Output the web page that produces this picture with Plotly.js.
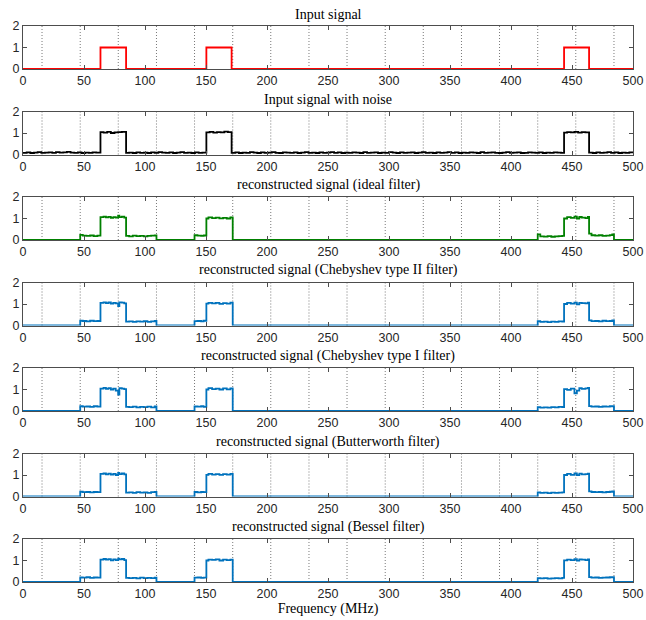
<!DOCTYPE html>
<html>
<head>
<meta charset="utf-8">
<script src="https://cdn.plot.ly/plotly-3.0.1.min.js"></script>
<style>html,body{margin:0;padding:0;background:#fff;}#chart{width:646px;height:620px;}</style>
</head>
<body>
<div id="chart"></div>
<script>
// ---------- data ----------
const panelTitles = [
  "Input signal",
  "Input signal with noise",
  "reconstructed signal (ideal filter)",
  "reconstructed signal (Chebyshev type II filter)",
  "reconstructed signal (Chebyshev type I filter)",
  "reconstructed signal (Butterworth filter)",
  "reconstructed signal (Bessel filter)"
];
const xTicks = [0, 50, 100, 150, 200, 250, 300, 350, 400, 450, 500];
const yTicks = [0, 1, 2];
const channelEdges = [15.6, 46.9, 78.1, 109.4, 140.6, 171.9, 203.1, 234.4, 265.6, 296.9, 328.1, 359.4, 390.6, 421.9, 453.1, 484.4];

// clean input signal (step breakpoints)
const inputX = [0, 63.5, 84.5, 150.3, 171, 443.5, 464, 500];
const inputY = [0, 1, 0, 1, 0, 1, 0, 0];

// noisy input signal, stored per segment: [start, stop, step] sampling and the values read
const noisySegments = [
  {from: 0, to: 60, step: 3, y: [0.08,0.10,0.07,0.09,0.11,0.08,0.09,0.10,0.08,0.11,0.09,0.10,0.12,0.09,0.08,0.10,0.07,0.09,0.08,0.10,0.09]},
  {pts: [63.5,66,69,72,75,78,81], y: [1.04,1.02,1.05,1.00,1.03,1.04,1.05]},
  {pts: [84.5], y: [0.08]},
  {from: 87, to: 147, step: 3, y: [0.09,0.07,0.10,0.08,0.09,0.07,0.10,0.08,0.11,0.09,0.08,0.10,0.07,0.09,0.11,0.08,0.09,0.07,0.10,0.08,0.09]},
  {pts: [150.3,153,156,159,162,165,168], y: [1.03,1.05,1.02,1.04,1.03,1.06,1.04]},
  {from: 171, to: 441, step: 3, y: [
    0.08,0.10,0.07,0.09,0.08,0.11,0.09,0.07,0.10,0.08,
    0.09,0.11,0.08,0.07,0.10,0.09,0.08,0.10,0.07,0.09,
    0.11,0.08,0.09,0.07,0.10,0.08,0.09,0.11,0.08,0.10,
    0.07,0.09,0.08,0.10,0.09,0.07,0.11,0.08,0.09,0.10,
    0.07,0.09,0.08,0.11,0.09,0.07,0.10,0.08,0.09,0.10,
    0.07,0.09,0.11,0.08,0.09,0.07,0.10,0.08,0.09,0.11,
    0.08,0.10,0.07,0.09,0.08,0.10,0.09,0.07,0.11,0.08,
    0.09,0.10,0.08,0.07,0.09,0.11,0.08,0.09,0.10,0.07,
    0.08,0.10,0.09,0.08,0.10,0.07,0.09,0.08,0.10,0.09,
    0.08]},
  {pts: [443.5,446,449,452,455,458,461], y: [1.02,1.04,1.03,1.05,1.02,1.04,1.03]},
  {from: 464, to: 500, step: 3, y: [0.09,0.07,0.10,0.08,0.09,0.11,0.08,0.10,0.07,0.09,0.08,0.10,0.08]}
];

// reconstructed signals share these sample positions (step breakpoints)
const bandX = [0,
  46.9,49,52,55,58,61,
  63.5,66,68,70,72,74,76,78,79,81,83,
  84.5,87,90,93,96,99,102,105,108,
  109.4,
  140.6,143,146,148,
  150.3,152,155,158,161,164,167,170,
  171.9,
  421.9,424,427,430,433,436,439,442,
  443.5,446,449,452,454,456,458,461,463,
  464,466,469,472,475,478,481,483,
  484.4,
  500];
const idealY = [0,
  0.24,0.20,0.19,0.21,0.18,0.20,
  1.06,1.09,1.05,1.08,1.03,1.06,1.04,1.13,1.06,1.09,1.04,
  0.19,0.17,0.20,0.18,0.19,0.17,0.19,0.20,0.21,
  0,
  0.22,0.20,0.19,0.21,
  1.00,1.05,1.02,1.04,1.01,1.03,1.00,1.05,
  0,
  0.26,0.17,0.16,0.18,0.15,0.17,0.18,0.19,
  1.00,1.06,1.03,1.09,1.00,1.07,1.04,1.02,1.07,
  0.30,0.22,0.20,0.22,0.19,0.20,0.23,0.26,
  0,
  0];
const cheby2Y = [0,
  0.22,0.21,0.19,0.22,0.20,0.21,
  1.05,1.08,1.04,1.07,1.02,1.05,1.03,0.90,1.08,1.06,1.03,
  0.18,0.19,0.17,0.19,0.18,0.20,0.17,0.19,0.21,
  0,
  0.20,0.21,0.19,0.22,
  1.02,1.05,1.03,1.05,1.01,1.04,1.02,1.06,
  0,
  0.20,0.17,0.18,0.16,0.18,0.17,0.19,0.18,
  1.00,1.05,1.02,1.06,0.98,1.05,1.04,1.03,1.06,
  0.24,0.20,0.21,0.19,0.22,0.20,0.21,0.24,
  0,
  0];
const cheby1Y = [0,
  0.22,0.20,0.21,0.19,0.22,0.20,
  1.04,1.08,1.03,1.06,1.00,1.04,0.95,0.76,1.06,1.04,1.02,
  0.19,0.18,0.20,0.17,0.19,0.18,0.20,0.17,0.21,
  0,
  0.21,0.20,0.22,0.19,
  1.00,1.06,1.02,1.04,1.00,1.05,1.01,1.05,
  0,
  0.18,0.16,0.17,0.16,0.18,0.17,0.19,0.18,
  1.02,0.98,1.04,0.82,0.95,1.06,1.03,1.05,1.07,
  0.23,0.20,0.21,0.19,0.21,0.20,0.22,0.23,
  0,
  0];
const butterY = [0,
  0.22,0.20,0.21,0.19,0.21,0.20,
  1.05,1.07,1.03,1.06,1.02,1.05,1.00,1.10,1.04,1.07,1.03,
  0.18,0.19,0.17,0.20,0.18,0.19,0.17,0.20,0.21,
  0,
  0.21,0.19,0.21,0.20,
  1.01,1.05,1.02,1.04,1.01,1.04,1.02,1.05,
  0,
  0.19,0.17,0.18,0.16,0.18,0.17,0.18,0.19,
  1.00,1.05,1.01,1.07,0.99,1.06,1.03,1.04,1.06,
  0.24,0.21,0.20,0.21,0.19,0.21,0.22,0.24,
  0,
  0];
const besselY = [0,
  0.21,0.20,0.22,0.19,0.21,0.20,
  1.04,1.07,1.04,1.06,1.01,1.05,1.02,1.09,1.05,1.07,1.02,
  0.19,0.18,0.19,0.17,0.20,0.18,0.19,0.18,0.20,
  0,
  0.20,0.21,0.19,0.20,
  1.00,1.04,1.03,1.05,1.00,1.04,1.02,1.04,
  0,
  0.18,0.17,0.18,0.16,0.17,0.18,0.17,0.19,
  1.01,1.04,1.02,1.06,0.99,1.05,1.04,1.02,1.05,
  0.23,0.20,0.21,0.19,0.20,0.21,0.22,0.23,
  0,
  0];

// build the noisy series sample positions from the segment sampling
const noisyX = [], noisyY = [];
noisySegments.forEach(s => {
  const xs = s.pts ? s.pts : [];
  if (!s.pts) for (let f = s.from; f <= s.to + 1e-9; f += s.step) xs.push(f);
  xs.forEach((f, k) => { noisyX.push(f); noisyY.push(s.y[k]); });
});

const seriesX = [inputX, noisyX, bandX, bandX, bandX, bandX, bandX];
const seriesY = [inputY, noisyY, idealY, cheby2Y, cheby1Y, butterY, besselY];
const seriesColors = ["#ff0000", "#000000", "#008000", "#0072bd", "#0072bd", "#0072bd", "#0072bd"];

// ---------- layout ----------
const W = 646, H = 620;
const firstTop = 26, panelStep = 85.5, panelH = 43;
const axisColor = "#4d4d4d";
const tickFont = {family: "Liberation Sans, Arial, sans-serif", size: 12.5, color: "#262626"};
const serifFont = {family: "Liberation Serif, DejaVu Serif, serif", size: 14, color: "#000"};

const traces = [];
const layout = {
  width: W, height: H,
  margin: {l: 23, r: 13, t: 0, b: 0},
  paper_bgcolor: "#fff", plot_bgcolor: "#fff",
  showlegend: false,
  shapes: [], annotations: []
};

for (let i = 0; i < 7; i++) {
  const n = i === 0 ? "" : String(i + 1);
  const top = firstTop + panelStep * i;
  const yTop = 1 - top / H, yBot = 1 - (top + panelH) / H;
  traces.push({
    x: seriesX[i], y: seriesY[i], type: "scatter", mode: "lines",
    line: {color: seriesColors[i], width: 1.8, shape: "hv"},
    xaxis: "x" + n, yaxis: "y" + n, hoverinfo: "skip"
  });
  layout["xaxis" + n] = {
    domain: [0, 1], anchor: "y" + n, range: [0, 500],
    tickvals: xTicks, ticktext: xTicks.map(String),
    ticks: "inside", ticklen: 4, tickcolor: axisColor, tickwidth: 1,
    showline: true, linecolor: axisColor, linewidth: 1, mirror: "ticks",
    showgrid: false, zeroline: false, tickfont: tickFont, fixedrange: true
  };
  layout["yaxis" + n] = {
    domain: [yBot, yTop], anchor: "x" + n, range: [0, 2],
    tickvals: yTicks, ticktext: yTicks.map(String),
    ticks: "inside", ticklen: 4, tickcolor: axisColor, tickwidth: 1,
    showline: true, linecolor: axisColor, linewidth: 1, mirror: "ticks",
    showgrid: false, zeroline: false, tickfont: tickFont, fixedrange: true
  };
  channelEdges.forEach(e => {
    layout.shapes.push({
      type: "line", xref: "x" + n, yref: "y" + n + " domain",
      x0: e, x1: e, y0: 0, y1: 1, layer: "below",
      line: {color: "#555", width: 0.8, dash: "1px,2px"}
    });
  });
  layout.annotations.push({
    text: panelTitles[i], xref: "paper", yref: "paper",
    x: 0.5, y: yTop, yshift: 2, xanchor: "center", yanchor: "bottom",
    showarrow: false, font: serifFont
  });
}
layout.xaxis7.title = {text: "Frequency (MHz)", font: serifFont, standoff: 2};

Plotly.newPlot("chart", traces, layout, {staticPlot: true, displayModeBar: false});
</script>
</body>
</html>
